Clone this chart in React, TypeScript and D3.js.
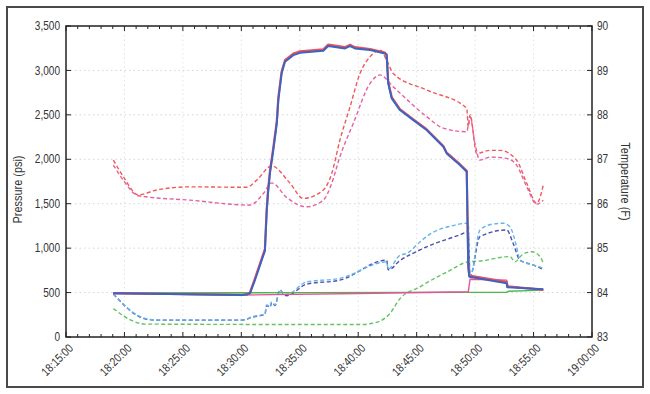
import React from "react";
import * as d3 from "d3";

// pressure gauges (psi, left axis)
const pressureRed: [string, number][] = [
  ["18:19:03", 493], ["18:30:04", 474], ["18:30:29", 482], ["18:30:44", 500], ["18:31:10", 660],
  ["18:32:01", 990], ["18:32:10", 1430], ["18:32:17", 1650], ["18:32:27", 1870], ["18:32:44", 2130],
  ["18:33:02", 2430], ["18:33:10", 2700], ["18:33:27", 2990], ["18:33:44", 3115], ["18:34:27", 3190],
  ["18:35:01", 3215], ["18:37:01", 3238], ["18:37:26", 3290], ["18:38:52", 3262], ["18:39:18", 3290],
  ["18:39:43", 3262], ["18:41:01", 3240], ["18:42:17", 3200], ["18:42:26", 3180], ["18:42:34", 2870],
  ["18:42:52", 2700], ["18:43:34", 2565], ["18:44:43", 2450], ["18:45:51", 2338], ["18:47:17", 2150],
  ["18:47:34", 2075], ["18:48:42", 1945], ["18:49:17", 1870], ["18:49:25", 800], ["18:49:30", 690],
  ["18:52:42", 620], ["18:52:45", 570], ["18:55:50", 530],
];
const pressureBlue: [string, number][] = [
  ["18:19:03", 491], ["18:30:04", 472], ["18:30:29", 478], ["18:30:44", 491], ["18:31:10", 641],
  ["18:32:01", 970], ["18:32:10", 1400], ["18:32:17", 1620], ["18:32:27", 1845], ["18:32:44", 2100],
  ["18:33:02", 2400], ["18:33:10", 2666], ["18:33:27", 2970], ["18:33:44", 3097], ["18:34:27", 3172],
  ["18:35:01", 3198], ["18:37:01", 3221], ["18:37:26", 3274], ["18:38:52", 3248], ["18:39:18", 3274],
  ["18:39:43", 3248], ["18:41:01", 3229], ["18:42:17", 3191], ["18:42:26", 3172], ["18:42:34", 2854],
  ["18:42:52", 2685], ["18:43:34", 2554], ["18:44:43", 2441], ["18:45:51", 2329], ["18:47:17", 2141],
  ["18:47:34", 2066], ["18:48:42", 1935], ["18:49:17", 1860], ["18:49:25", 791], ["18:49:30", 679],
  ["18:52:42", 604], ["18:52:45", 559], ["18:55:50", 537],
];
const pressurePink: [string, number][] = [
  ["18:19:03", 490], ["18:30:04", 472], ["18:40:00", 490], ["18:49:25", 510], ["18:49:34", 650],
  ["18:52:42", 640], ["18:52:50", 566], ["18:55:50", 535],
];
const pressureGreen: [string, number][] = [
  ["18:19:03", 497], ["18:35:00", 499], ["18:52:42", 503], ["18:52:50", 515], ["18:55:50", 527],
];

// temperatures (F, right axis)
const tempRed: [string, number][] = [
  ["18:19:03", 86.98], ["18:19:54", 86.61], ["18:21:11", 86.2], ["18:22:46", 86.31], ["18:25:37", 86.38],
  ["18:30:28", 86.37], ["18:31:19", 86.53], ["18:32:36", 86.85], ["18:34:10", 86.46], ["18:35:18", 86.12],
  ["18:37:01", 86.31], ["18:37:44", 86.68], ["18:38:26", 87.43], ["18:39:18", 88.18], ["18:40:09", 88.93],
  ["18:41:01", 89.31], ["18:41:52", 89.46], ["18:42:26", 89.23], ["18:43:00", 88.93], ["18:45:51", 88.56],
  ["18:49:17", 88.15], ["18:49:25", 87.73], ["18:49:34", 88.0], ["18:50:08", 87.13], ["18:51:16", 87.2],
  ["18:52:08", 87.2], ["18:53:33", 86.98], ["18:54:25", 86.46], ["18:55:16", 86.01], ["18:55:50", 86.42],
];
const tempPink: [string, number][] = [
  ["18:19:03", 86.87], ["18:19:54", 86.53], ["18:21:11", 86.18], ["18:25:37", 86.08], ["18:30:44", 85.97],
  ["18:31:53", 86.23], ["18:32:36", 86.47], ["18:33:53", 86.14], ["18:35:35", 85.93], ["18:37:01", 86.08],
  ["18:37:44", 86.46], ["18:38:26", 87.06], ["18:39:35", 87.81], ["18:41:01", 88.71], ["18:41:52", 88.9],
  ["18:43:00", 88.63], ["18:45:51", 87.96], ["18:47:17", 87.7], ["18:49:17", 87.62], ["18:49:34", 87.96],
  ["18:49:59", 87.36], ["18:50:25", 86.98], ["18:51:16", 87.05], ["18:52:42", 87.02], ["18:53:33", 86.87],
  ["18:54:25", 86.38], ["18:55:16", 85.99], ["18:55:50", 86.08],
];
const tempLightBlue: [string, number][] = [
  ["18:19:03", 83.97], ["18:21:20", 83.46], ["18:21:45", 83.42], ["18:22:46", 83.38], ["18:30:02", 83.38],
  ["18:31:00", 83.46], ["18:32:01", 83.52], ["18:32:10", 83.72], ["18:32:27", 83.68], ["18:32:36", 83.79],
  ["18:32:53", 83.72], ["18:33:18", 84.07], ["18:33:35", 83.98], ["18:33:53", 83.96], ["18:35:35", 84.24],
  ["18:38:26", 84.32], ["18:42:26", 84.69], ["18:42:34", 84.53], ["18:43:34", 84.84], ["18:44:08", 84.88],
  ["18:45:17", 85.14], ["18:45:51", 85.26], ["18:46:26", 85.36], ["18:48:00", 85.5], ["18:49:17", 85.56],
  ["18:49:25", 85.56], ["18:49:34", 84.33], ["18:50:25", 85.41], ["18:51:30", 85.54], ["18:52:25", 85.56],
  ["18:52:59", 85.48], ["18:53:33", 85.03], ["18:53:50", 84.73], ["18:54:59", 84.62], ["18:55:50", 84.55],
];
const tempDarkBlue: [string, number][] = [
  ["18:19:03", 83.97], ["18:21:20", 83.45], ["18:21:45", 83.41], ["18:22:46", 83.38], ["18:30:02", 83.38],
  ["18:31:00", 83.45], ["18:32:01", 83.51], ["18:32:10", 83.71], ["18:32:27", 83.67], ["18:32:36", 83.78],
  ["18:32:53", 83.71], ["18:33:18", 84.06], ["18:33:35", 83.97], ["18:33:53", 83.93], ["18:35:35", 84.19],
  ["18:38:26", 84.28], ["18:42:26", 84.73], ["18:42:34", 84.51], ["18:43:34", 84.72], ["18:45:17", 84.96],
  ["18:45:51", 85.03], ["18:48:42", 85.3], ["18:49:25", 85.37], ["18:49:34", 84.36], ["18:50:25", 85.26],
  ["18:52:42", 85.41], ["18:53:15", 85.11], ["18:53:50", 84.73], ["18:54:59", 84.62], ["18:55:50", 84.52],
];
const tempGreen: [string, number][] = [
  ["18:19:03", 83.64], ["18:20:54", 83.34], ["18:21:45", 83.29], ["18:40:09", 83.28], ["18:41:16", 83.31],
  ["18:42:43", 83.53], ["18:43:34", 83.86], ["18:45:17", 84.13], ["18:45:51", 84.22], ["18:47:30", 84.45],
  ["18:49:25", 84.69], ["18:50:25", 84.71], ["18:52:59", 84.81], ["18:53:25", 84.69], ["18:53:59", 84.84],
  ["18:54:50", 84.92], ["18:55:33", 84.81], ["18:55:50", 84.66],
];

const pressureTicks = [0, 500, 1000, 1500, 2000, 2500, 3000, 3500];
const tempTicks = [83, 84, 85, 86, 87, 88, 89, 90];
const timeStart = "18:15:00";
const timeEnd = "19:00:00";

const W = 650;
const H = 394;
const left = 66, right = 592, top = 26, bottom = 337;
const font = "'Liberation Sans', Arial, sans-serif";
const narrow = "scale(0.84,1)"; // the original uses a condensed face

const parse = d3.timeParse("%H:%M:%S");

export default function App() {
  const x = d3.scaleTime().domain([parse(timeStart)!, parse(timeEnd)!]).range([left, right]);
  const yP = d3.scaleLinear().domain([0, 3500]).range([bottom, top]);
  const yT = d3.scaleLinear().domain([83, 90]).range([bottom, top]);

  const majors = x.ticks(d3.timeMinute.every(5)!);
  const minors = x.ticks(d3.timeMinute.every(1)!);
  const fmt = d3.timeFormat("%H:%M:%S");

  const lineP = d3.line<[string, number]>().x((d) => x(parse(d[0])!)).y((d) => yP(d[1]));
  const lineT = d3
    .line<[string, number]>()
    .x((d) => x(parse(d[0])!))
    .y((d) => yT(d[1]))
    .curve(d3.curveMonotoneX);

  const dashed = [
    { data: tempGreen, color: "#62c462" },
    { data: tempDarkBlue, color: "#4a50b0" },
    { data: tempLightBlue, color: "#62b4ea" },
    { data: tempRed, color: "#f2575a" },
    { data: tempPink, color: "#e6629e" },
  ];
  const solid = [
    { data: pressureGreen, color: "#4cb84c", w: 1.4 },
    { data: pressurePink, color: "#e2559b", w: 1.4 },
    { data: pressureRed, color: "#ec5058", w: 2.2 },
    { data: pressureBlue, color: "#3c63c2", w: 2 },
  ];

  return (
    <svg width={W} height={H} style={{ position: "absolute", left: 0, top: 0, background: "#fff" }} fontFamily={font}>
      <rect x={7} y={7} width={636} height={380} fill="#fff" stroke="#4a4a4a" strokeWidth={2} />

      {/* grid */}
      {pressureTicks.slice(1, -1).map((t) => (
        <line key={"h" + t} x1={left} x2={right} y1={yP(t)} y2={yP(t)} stroke="#d4d4d4" strokeDasharray="1.5,3" />
      ))}
      {majors.slice(1, -1).map((t) => (
        <line key={"v" + t.getTime()} x1={x(t)} x2={x(t)} y1={top} y2={bottom} stroke="#e2e2e2" strokeDasharray="1.5,3" />
      ))}

      {/* series */}
      {dashed.map((s, i) => (
        <path key={"d" + i} d={lineT(s.data)!} fill="none" stroke={s.color} strokeWidth={1.4} strokeDasharray="4,2.5" />
      ))}
      {solid.map((s, i) => (
        <path key={"s" + i} d={lineP(s.data)!} fill="none" stroke={s.color} strokeWidth={s.w} strokeLinejoin="round" />
      ))}

      {/* frame */}
      <rect x={left} y={top} width={right - left} height={bottom - top} fill="none" stroke="#222" strokeWidth={1.5} />

      {/* x ticks, top and bottom, pointing inward */}
      {minors.map((t) => {
        const major = majors.some((m) => m.getTime() === t.getTime());
        const len = major ? 5 : 3;
        return (
          <g key={"xt" + t.getTime()} stroke="#222" strokeWidth={1}>
            <line x1={x(t)} x2={x(t)} y1={bottom} y2={bottom - len} />
            <line x1={x(t)} x2={x(t)} y1={top} y2={top + len} />
          </g>
        );
      })}
      {majors.map((t) => (
        <text
          key={"xl" + t.getTime()}
          transform={`translate(${x(t) + 5},${bottom + 9}) rotate(-45) ${narrow}`}
          textAnchor="end"
          dy="0.35em"
          fontSize={12}
          fill="#333"
        >
          {fmt(t)}
        </text>
      ))}

      {/* left axis */}
      {pressureTicks.map((t) => (
        <g key={"yl" + t}>
          <line x1={left} x2={left + 5} y1={yP(t)} y2={yP(t)} stroke="#222" />
          <text
            transform={`translate(${left - 6},${yP(t)}) ${narrow}`}
            dy="0.35em"
            textAnchor="end"
            fontSize={12}
            fill="#333"
          >
            {d3.format(",")(t)}
          </text>
        </g>
      ))}
      <text
        transform={`translate(22,${(top + bottom) / 2 + 8}) rotate(-90) ${narrow}`}
        textAnchor="middle"
        fontSize={13}
        fill="#333"
      >
        Pressure (psi)
      </text>

      {/* right axis */}
      {tempTicks.map((t) => (
        <g key={"yr" + t}>
          <line x1={right} x2={right - 5} y1={yT(t)} y2={yT(t)} stroke="#222" />
          <text
            transform={`translate(${right + 5},${yT(t)}) ${narrow}`}
            dy="0.35em"
            textAnchor="start"
            fontSize={12}
            fill="#333"
          >
            {t}
          </text>
        </g>
      ))}
      <text
        transform={`translate(621,${(top + bottom) / 2}) rotate(90) ${narrow}`}
        textAnchor="middle"
        fontSize={13}
        fill="#333"
      >
        Temperature (F)
      </text>
    </svg>
  );
}
